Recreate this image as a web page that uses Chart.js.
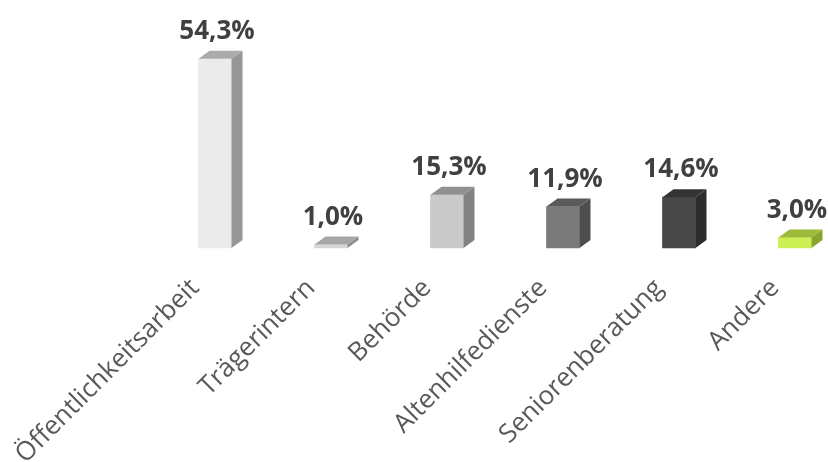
<!DOCTYPE html>
<html>
<head>
<meta charset="utf-8">
<script src="https://cdn.jsdelivr.net/npm/chart.js@4.4.1/dist/chart.umd.min.js"></script>
<style>
  html, body { margin: 0; padding: 0; background: #fff; }
  #wrap { width: 828px; height: 462px; }
</style>
</head>
<body>
<div id="wrap"><canvas id="chart-bar3d"></canvas></div>
<script>
// categories and shares (%)
var categories = ['Öffentlichkeitsarbeit', 'Trägerintern', 'Behörde', 'Altenhilfedienste', 'Seniorenberatung', 'Andere'];
var shares = [54.3, 1.0, 15.3, 11.9, 14.6, 3.0];

// face colours per bar: front, top, side
var frontColors = ['#ebebeb', '#d6d6d6', '#c9c9c9', '#7a7a7a', '#474747', '#ccef55'];
var topColors = ['#ababab', '#a6a6a6', '#909090', '#5a5a5a', '#333333', '#9dbb38'];
var sideColors = ['#969696', '#8c8c8c', '#828282', '#4e4e4e', '#2c2c2c', '#88a52c'];

var DX = 11, DY = -8;

var bar3d = {
  id: 'bar3d',
  afterDatasetsDraw: function(chart) {
    var ctx = chart.ctx;
    var meta = chart.getDatasetMeta(0);
    meta.data.forEach(function(bar, i) {
      var half = bar.width / 2;
      var l = bar.x - half, r = bar.x + half;
      var t = bar.y, b = bar.base;
      ctx.save();
      // side face
      ctx.fillStyle = sideColors[i];
      ctx.beginPath();
      ctx.moveTo(r, t);
      ctx.lineTo(r + DX, t + DY);
      ctx.lineTo(r + DX, b + DY);
      ctx.lineTo(r, b);
      ctx.closePath();
      ctx.fill();
      // top face
      ctx.fillStyle = topColors[i];
      ctx.beginPath();
      ctx.moveTo(l, t);
      ctx.lineTo(l + DX, t + DY);
      ctx.lineTo(r + DX, t + DY);
      ctx.lineTo(r, t);
      ctx.closePath();
      ctx.fill();
      // value label
      ctx.fillStyle = '#404040';
      ctx.font = 'bold 26px "Open Sans"';
      ctx.textAlign = 'center';
      ctx.textBaseline = 'alphabetic';
      ctx.fillText(shares[i].toFixed(1).replace('.', ',') + '%', bar.x + 2, t + DY - 12);
      ctx.restore();
    });
  }
};

new Chart(document.getElementById('chart-bar3d'), {
  type: 'bar',
  data: {
    labels: categories,
    datasets: [{
      data: shares,
      backgroundColor: frontColors,
      borderWidth: 0,
      barThickness: 33,
      clip: false
    }]
  },
  options: {
    responsive: true,
    maintainAspectRatio: false,
    animation: false,
    layout: { padding: { left: 215, right: 33, top: 39, bottom: 0 } },
    plugins: {
      legend: { display: false },
      tooltip: { enabled: false }
    },
    scales: {
      x: {
        offset: false,
        grid: { display: false, drawTicks: false },
        border: { display: false },
        ticks: {
          autoSkip: false,
          minRotation: 45,
          maxRotation: 45,
          padding: 25,
          labelOffset: -20,
          color: '#595959',
          font: { family: 'Open Sans', size: 26 }
        },
        afterFit: function(scale) {
          scale.paddingLeft = 0;
          scale.paddingRight = 0;
          scale.height = 214;
        }
      },
      y: {
        display: false,
        min: 0,
        max: 60
      }
    }
  },
  plugins: [bar3d]
});
</script>
</body>
</html>
